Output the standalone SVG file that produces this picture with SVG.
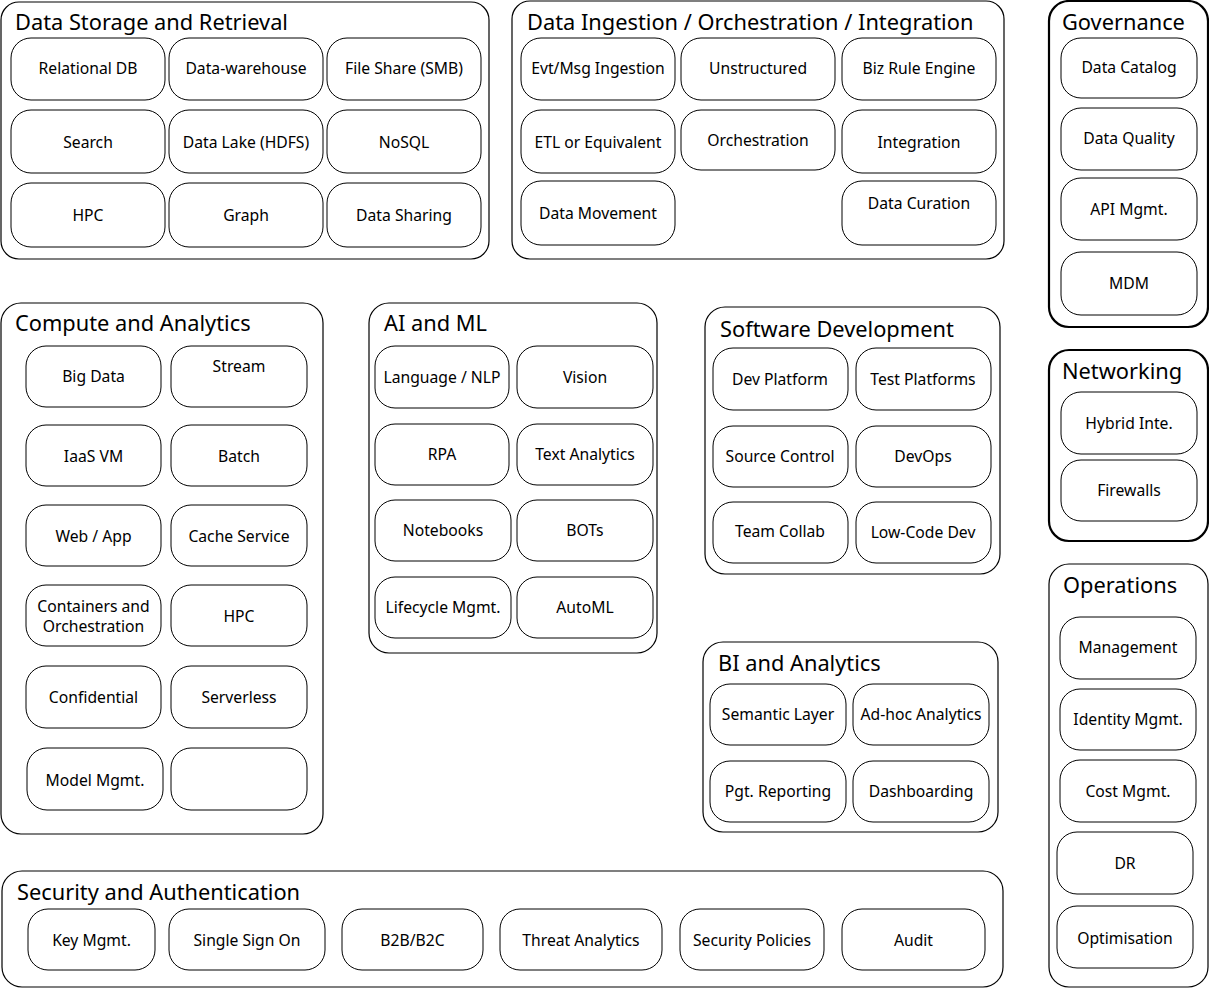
<svg xmlns="http://www.w3.org/2000/svg" width="1209" height="988" viewBox="0 0 1209 988">
<style>
.c{fill:#fff;stroke:#000;stroke-width:1.2}
.cb{fill:#fff;stroke:#000;stroke-width:2.2}
.n{fill:#fff;stroke:#000;stroke-width:1}
.t{font-family:"Noto Sans","Open Sans",sans-serif;font-size:21.8px;fill:#000}
.l{font-family:"Noto Sans","Open Sans",sans-serif;font-size:15.7px;fill:#000;text-anchor:middle;dominant-baseline:central}
</style>
<rect width="1209" height="988" fill="#fff"/>
<g id="connectors"></g>

<g id="data-storage">
<rect class="c" x="1" y="2" width="488" height="257" rx="18"/>
<text class="t" x="15" y="30">Data Storage and Retrieval</text>
<rect class="n" x="11" y="38" width="154" height="62" rx="20"/><text class="l" x="88" y="68">Relational DB</text>
<rect class="n" x="169" y="38" width="154" height="62" rx="20"/><text class="l" x="246" y="68">Data-warehouse</text>
<rect class="n" x="327" y="38" width="154" height="62" rx="20"/><text class="l" x="404" y="68">File Share (SMB)</text>
<rect class="n" x="11" y="110" width="154" height="63" rx="20"/><text class="l" x="88" y="142">Search</text>
<rect class="n" x="169" y="110" width="154" height="63" rx="20"/><text class="l" x="246" y="142">Data Lake (HDFS)</text>
<rect class="n" x="327" y="110" width="154" height="63" rx="20"/><text class="l" x="404" y="142">NoSQL</text>
<rect class="n" x="11" y="183" width="154" height="64" rx="20"/><text class="l" x="88" y="215">HPC</text>
<rect class="n" x="169" y="183" width="154" height="64" rx="20"/><text class="l" x="246" y="215">Graph</text>
<rect class="n" x="327" y="183" width="154" height="64" rx="20"/><text class="l" x="404" y="215">Data Sharing</text>
</g>

<g id="data-ingestion">
<rect class="c" x="512" y="1" width="492" height="258" rx="18"/>
<text class="t" x="527" y="30">Data Ingestion / Orchestration / Integration</text>
<rect class="n" x="521" y="38" width="154" height="62" rx="20"/><text class="l" x="598" y="68">Evt/Msg Ingestion</text>
<rect class="n" x="681" y="38" width="154" height="62" rx="20"/><text class="l" x="758" y="68">Unstructured</text>
<rect class="n" x="842" y="38" width="154" height="62" rx="20"/><text class="l" x="919" y="68">Biz Rule Engine</text>
<rect class="n" x="521" y="110" width="154" height="63" rx="20"/><text class="l" x="598" y="142">ETL or Equivalent</text>
<rect class="n" x="681" y="110" width="154" height="60" rx="20"/><text class="l" x="758" y="140">Orchestration</text>
<rect class="n" x="842" y="110" width="154" height="63" rx="20"/><text class="l" x="919" y="142">Integration</text>
<rect class="n" x="521" y="181" width="154" height="64" rx="20"/><text class="l" x="598" y="213">Data Movement</text>
<rect class="n" x="842" y="181" width="154" height="64" rx="20"/><text class="l" x="919" y="203">Data Curation</text>
</g>

<g id="governance">
<rect class="cb" x="1049" y="1" width="159" height="326" rx="20"/>
<text class="t" x="1062" y="30">Governance</text>
<rect class="n" x="1061" y="38" width="136" height="60" rx="20"/><text class="l" x="1129" y="67">Data Catalog</text>
<rect class="n" x="1061" y="108" width="136" height="62" rx="20"/><text class="l" x="1129" y="138">Data Quality</text>
<rect class="n" x="1061" y="178" width="136" height="62" rx="20"/><text class="l" x="1129" y="209">API Mgmt.</text>
<rect class="n" x="1061" y="252" width="136" height="63" rx="20"/><text class="l" x="1129" y="283">MDM</text>
</g>

<g id="networking">
<rect class="cb" x="1049" y="350" width="159" height="191" rx="20"/>
<text class="t" x="1062" y="379">Networking</text>
<rect class="n" x="1061" y="392" width="136" height="62" rx="20"/><text class="l" x="1129" y="423">Hybrid Inte.</text>
<rect class="n" x="1061" y="460" width="136" height="61" rx="20"/><text class="l" x="1129" y="490">Firewalls</text>
</g>

<g id="operations">
<rect class="c" x="1049" y="564" width="159" height="423" rx="20"/>
<text class="t" x="1063" y="593">Operations</text>
<rect class="n" x="1060" y="617" width="136" height="62" rx="20"/><text class="l" x="1128" y="647">Management</text>
<rect class="n" x="1060" y="689" width="136" height="61" rx="20"/><text class="l" x="1128" y="719">Identity Mgmt.</text>
<rect class="n" x="1060" y="760" width="136" height="62" rx="20"/><text class="l" x="1128" y="791">Cost Mgmt.</text>
<rect class="n" x="1057" y="832" width="136" height="62" rx="20"/><text class="l" x="1125" y="863">DR</text>
<rect class="n" x="1057" y="906" width="136" height="62" rx="20"/><text class="l" x="1125" y="938">Optimisation</text>
</g>

<g id="compute">
<rect class="c" x="1" y="303" width="322" height="531" rx="20"/>
<text class="t" x="15" y="331">Compute and Analytics</text>
<rect class="n" x="26" y="346" width="135" height="61" rx="20"/><text class="l" x="93.5" y="376">Big Data</text>
<rect class="n" x="171" y="346" width="136" height="61" rx="20"/><text class="l" x="239" y="366">Stream</text>
<rect class="n" x="26" y="425" width="135" height="61" rx="20"/><text class="l" x="93.5" y="456">IaaS VM</text>
<rect class="n" x="171" y="425" width="136" height="61" rx="20"/><text class="l" x="239" y="456">Batch</text>
<rect class="n" x="26" y="505" width="135" height="61" rx="20"/><text class="l" x="93.5" y="536">Web / App</text>
<rect class="n" x="171" y="505" width="136" height="61" rx="20"/><text class="l" x="239" y="536">Cache Service</text>
<rect class="n" x="26" y="585" width="135" height="61" rx="20"/><text class="l" x="93.5" y="606">Containers and</text><text class="l" x="93.5" y="626">Orchestration</text>
<rect class="n" x="171" y="585" width="136" height="61" rx="20"/><text class="l" x="239" y="616">HPC</text>
<rect class="n" x="26" y="666" width="135" height="62" rx="20"/><text class="l" x="93.5" y="697">Confidential</text>
<rect class="n" x="171" y="666" width="136" height="62" rx="20"/><text class="l" x="239" y="697">Serverless</text>
<rect class="n" x="27" y="748" width="136" height="62" rx="20"/><text class="l" x="95" y="780">Model Mgmt.</text>
<rect class="n" x="171" y="748" width="136" height="62" rx="20"/>
</g>

<g id="ai-ml">
<rect class="c" x="369" y="303" width="288" height="350" rx="20"/>
<text class="t" x="384" y="331">AI and ML</text>
<rect class="n" x="375" y="346" width="134" height="62" rx="20"/><text class="l" x="442" y="377">Language / NLP</text>
<rect class="n" x="517" y="346" width="136" height="62" rx="20"/><text class="l" x="585" y="377">Vision</text>
<rect class="n" x="375" y="424" width="134" height="61" rx="20"/><text class="l" x="442" y="454">RPA</text>
<rect class="n" x="517" y="424" width="136" height="61" rx="20"/><text class="l" x="585" y="454">Text Analytics</text>
<rect class="n" x="375" y="500" width="136" height="61" rx="20"/><text class="l" x="443" y="530">Notebooks</text>
<rect class="n" x="517" y="500" width="136" height="61" rx="20"/><text class="l" x="585" y="530">BOTs</text>
<rect class="n" x="375" y="577" width="136" height="61" rx="20"/><text class="l" x="443" y="607">Lifecycle Mgmt.</text>
<rect class="n" x="517" y="577" width="136" height="61" rx="20"/><text class="l" x="585" y="607">AutoML</text>
</g>

<g id="software-dev">
<rect class="c" x="705" y="307" width="295" height="267" rx="20"/>
<text class="t" x="720" y="337">Software Development</text>
<rect class="n" x="713" y="348" width="135" height="62" rx="20"/><text class="l" x="780" y="379">Dev Platform</text>
<rect class="n" x="856" y="348" width="135" height="62" rx="20"/><text class="l" x="923" y="379">Test Platforms</text>
<rect class="n" x="713" y="426" width="135" height="61" rx="20"/><text class="l" x="780" y="456">Source Control</text>
<rect class="n" x="856" y="426" width="135" height="61" rx="20"/><text class="l" x="923" y="456">DevOps</text>
<rect class="n" x="713" y="502" width="135" height="61" rx="20"/><text class="l" x="780" y="531">Team Collab</text>
<rect class="n" x="856" y="502" width="135" height="61" rx="20"/><text class="l" x="923" y="532">Low-Code Dev</text>
</g>

<g id="bi-analytics">
<rect class="c" x="703" y="642" width="295" height="190" rx="20"/>
<text class="t" x="718" y="671">BI and Analytics</text>
<rect class="n" x="710" y="684" width="136" height="61" rx="20"/><text class="l" x="778" y="714">Semantic Layer</text>
<rect class="n" x="853" y="684" width="136" height="61" rx="20"/><text class="l" x="921" y="714">Ad-hoc Analytics</text>
<rect class="n" x="710" y="761" width="136" height="61" rx="20"/><text class="l" x="778" y="791">Pgt. Reporting</text>
<rect class="n" x="853" y="761" width="136" height="61" rx="20"/><text class="l" x="921" y="791">Dashboarding</text>
</g>

<g id="security">
<rect class="c" x="2" y="871" width="1001" height="116" rx="20"/>
<text class="t" x="17" y="900">Security and Authentication</text>
<rect class="n" x="28" y="909" width="127" height="61" rx="20"/><text class="l" x="91.5" y="940">Key Mgmt.</text>
<rect class="n" x="169" y="909" width="156" height="61" rx="20"/><text class="l" x="247" y="940">Single Sign On</text>
<rect class="n" x="342" y="909" width="141" height="61" rx="20"/><text class="l" x="412.5" y="940">B2B/B2C</text>
<rect class="n" x="500" y="909" width="162" height="61" rx="20"/><text class="l" x="581" y="940">Threat Analytics</text>
<rect class="n" x="680" y="909" width="144" height="61" rx="20"/><text class="l" x="752" y="940">Security Policies</text>
<rect class="n" x="842" y="909" width="143" height="61" rx="20"/><text class="l" x="913.5" y="940">Audit</text>
</g>
</svg>
